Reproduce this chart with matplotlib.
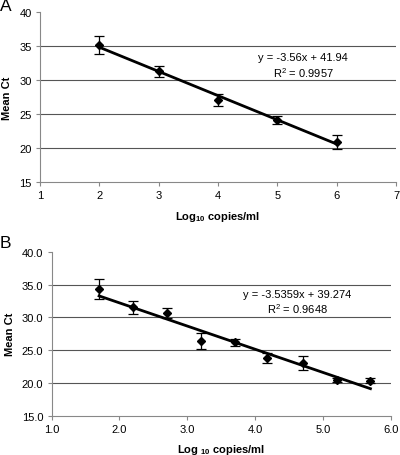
import numpy as np
import matplotlib
matplotlib.use("Agg")
import matplotlib.pyplot as plt

plt.rcParams['font.family'] = ['Liberation Sans', 'DejaVu Sans']
plt.rcParams['mathtext.fontset'] = 'custom'
plt.rcParams['mathtext.rm'] = 'Liberation Sans'
plt.rcParams['mathtext.bf'] = 'Liberation Sans:bold'

# panel A data
xa = [2, 3, 4, 5, 6]
ya = [35.1, 31.3, 27.1, 24.1, 20.9]
ea = [1.35, 0.8, 0.9, 0.6, 1.0]
slope_a, icpt_a, r2_a = -3.56, 41.94, 0.9957

# panel B data
xb = [1.7, 2.2, 2.7, 3.2, 3.7, 4.18, 4.7, 5.2, 5.7]
yb = [34.3, 31.5, 30.65, 26.4, 26.2, 23.8, 23.0, 20.5, 20.35]
eb = [1.5, 0.95, 0.7, 1.2, 0.55, 0.8, 1.05, 0.3, 0.35]
slope_b, icpt_b, r2_b = -3.5359, 39.274, 0.9648

fig = plt.figure(figsize=(4, 4.56), dpi=100)
ax1 = fig.add_axes([0.1, 0.5987, 0.89, 0.3728])
ax2 = fig.add_axes([0.129, 0.0862, 0.848, 0.3596])


def draw_panel(ax, x, y, e, slope, icpt, r2, xlim, xticks, fmt, eq, eqpos, xlab):
    # horizontal grid lines
    for yy in [20, 25, 30, 35]:
        ax.axhline(yy, color='#555555', lw=0.8, zorder=0)
    ax.errorbar(x, y, yerr=e, fmt='D', color='black', ms=4.5, capsize=3.5,
                elinewidth=0.9, capthick=0.9, zorder=3)
    # regression line
    xx = np.array([min(x), max(x)])
    ax.plot(xx, slope * xx + icpt, color='black', lw=2, zorder=2)
    ax.set_xlim(*xlim)
    ax.set_ylim(15, 40)
    ax.set_xticks(xticks)
    ax.set_yticks([15, 20, 25, 30, 35, 40])
    ax.set_xticklabels([fmt.format(t) for t in xticks])
    ax.set_yticklabels([fmt.format(t) for t in [15, 20, 25, 30, 35, 40]])
    for s in ['top', 'right']:
        ax.spines[s].set_visible(False)
    for s in ['left', 'bottom']:
        ax.spines[s].set_color('#888888')
        ax.spines[s].set_linewidth(0.8)
    ax.tick_params(labelsize=8, length=3, width=0.8, color='#888888', pad=3)
    ax.set_ylabel('Mean Ct', fontsize=8, fontweight='bold', labelpad=5)
    ax.set_xlabel(xlab, fontsize=8, fontweight='bold', labelpad=6)
    ax.text(eqpos[0], eqpos[1], eq, fontsize=8, ha='center', va='center')
    ax.text(eqpos[0], eqpos[1] - 2.2, 'R$^2$ = {}'.format(r2), fontsize=8,
            ha='center', va='center')


draw_panel(ax1, xa, ya, ea, slope_a, icpt_a, r2_a, (1, 7), [1, 2, 3, 4, 5, 6, 7],
           '{:d}', 'y = -3.56x + 41.94', (5.43, 33.4),
           r'Log$_{\mathbf{10}}$ copies/ml')
draw_panel(ax2, xb, yb, eb, slope_b, icpt_b, r2_b, (1, 6),
           [1.0, 2.0, 3.0, 4.0, 5.0, 6.0], '{:.1f}', 'y = -3.5359x + 39.274',
           (4.62, 33.55), r'Log $_{\mathbf{10}}$ copies/ml')

fig.text(0.0, 0.985, 'A', fontsize=12.5, va='center', ha='left')
fig.text(0.0, 0.465, 'B', fontsize=12.5, va='center', ha='left')

fig.savefig('out.png', dpi=100)
